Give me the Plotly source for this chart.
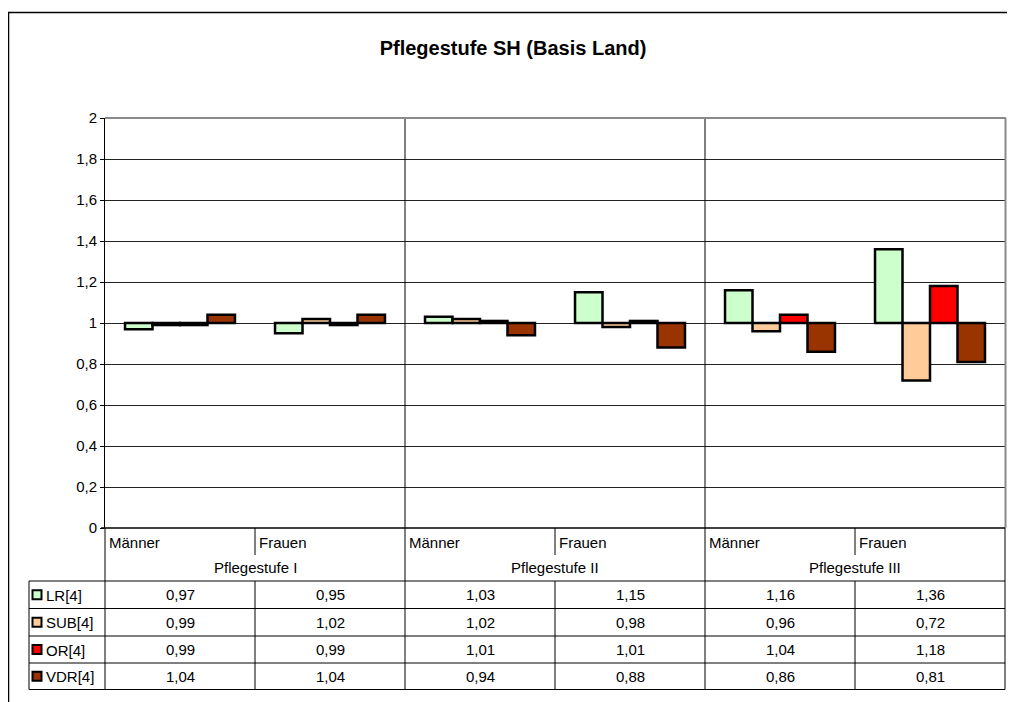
import plotly.graph_objects as go

# ---- data ----
groups = ["Pflegestufe I", "Pflegestufe II", "Pflegestufe III"]
sexes = ["Männer", "Frauen"]
series_names = ["LR[4]", "SUB[4]", "OR[4]", "VDR[4]"]
LR = [0.97, 0.95, 1.03, 1.15, 1.16, 1.36]
SUB = [0.99, 1.02, 1.02, 0.98, 0.96, 0.72]
OR = [0.99, 0.99, 1.01, 1.01, 1.04, 1.18]
VDR = [1.04, 1.04, 0.94, 0.88, 0.86, 0.81]
y_tickvals = [0, 0.2, 0.4, 0.6, 0.8, 1, 1.2, 1.4, 1.6, 1.8, 2]
y_ticktext = ["0", "0,2", "0,4", "0,6", "0,8", "1", "1,2", "1,4", "1,6", "1,8", "2"]
title_text = "Pflegestufe SH (Basis Land)"

series_values = [LR, SUB, OR, VDR]
colors = ["#CCFFCC", "#FFCC99", "#FF0000", "#993300"]
baseline = 1.0

cat_keys = [f"{g} {s}" for g in groups for s in sexes]

OFF = 8  # page body margin
W, H = 1015 - OFF, 702 - OFF
# plot area in screen pixels
PL, PR, PT, PB = 105, 1005, 118, 528
pw, ph = PR - PL, PB - PT


def px(x):
    return (x - PL) / pw


def py(y):
    return (PB - y) / ph


fig = go.Figure()
for name, vals, col in zip(series_names, series_values, colors):
    fig.add_trace(go.Bar(
        x=cat_keys,
        y=[v - baseline for v in vals],
        base=baseline,
        name=name,
        marker=dict(color=col, line=dict(color="#000000", width=2.5)),
        showlegend=False,
    ))

shapes = []
annotations = []
FONT = "Liberation Sans, Arial, sans-serif"
FS = 15


def line(x0, y0, x1, y1, color="#000000", width=1):
    shapes.append(dict(type="line", xref="paper", yref="paper",
                       x0=px(x0), y0=py(y0), x1=px(x1), y1=py(y1),
                       line=dict(color=color, width=width), layer="above"))


def text(x, y, s, xanchor="center", size=FS):
    annotations.append(dict(xref="paper", yref="paper", x=px(x), y=py(y), text=s,
                            showarrow=False, xanchor=xanchor, yanchor="middle",
                            font=dict(family=FONT, size=size, color="#000000")))


# outer chart border
shapes.append(dict(type="rect", xref="paper", yref="paper",
                   x0=px(8.5), y0=py(740), x1=px(1013.5), y1=py(12.5),
                   line=dict(color="#000000", width=1.5), layer="below"))

# group dividers in plot + table
for i in (1, 2):
    line(PL + i * 300, PT, PL + i * 300, 689.5, color="#000000", width=1)
# plot area top/right grey border
line(PL, PT, PR + 1, PT, color="#8a8a8a", width=2)
line(PR + 0.5, PT, PR + 0.5, PB, color="#8a8a8a", width=2)

# table structure
row_y = [581, 608.5, 636, 663, 689.5]
for yy in row_y:
    line(29, yy, PR, yy)
line(29, 581, 29, 689.5)
line(PL, PB, PL, 689.5)
line(PR, PB, PR, 689.5)
for i in range(6):
    xx = PL + 150 * (i + 1)
    if i % 2 == 0:
        line(xx, PB, xx, 555)
        line(xx, 581, xx, 689.5)

# header texts
for gi, g in enumerate(groups):
    for si, s in enumerate(sexes):
        text(PL + gi * 300 + si * 150 + 2, 542, s, xanchor="left")
    text(PL + gi * 300 + 150, 567, g)

# data rows
for ri, (name, vals, col) in enumerate(zip(series_names, series_values, colors)):
    yc = (row_y[ri] + row_y[ri + 1]) / 2
    shapes.append(dict(type="rect", xref="paper", yref="paper",
                       x0=px(32.5), x1=px(41.5), y0=py(yc + 4.5), y1=py(yc - 4.5),
                       fillcolor=col, line=dict(color="#000000", width=2), layer="above"))
    text(44, yc + 0.5, name, xanchor="left")
    for ci, v in enumerate(vals):
        text(PL + ci * 150 + 75, yc, f"{v:.2f}".replace(".", ","))

fig.update_layout(
    width=W, height=H,
    margin=dict(l=PL - OFF, r=W - (PR - OFF), t=PT - OFF, b=H - (PB - OFF), pad=0),
    paper_bgcolor="#FFFFFF", plot_bgcolor="#FFFFFF",
    barmode="group", bargap=0.267, bargroupgap=0,
    title=dict(text=f"<b>{title_text}</b>", x=(513 - OFF) / W, xanchor="center",
               y=1 - (48 - OFF) / H, yanchor="middle",
               font=dict(family=FONT, size=20, color="#000000")),
    font=dict(family=FONT, size=FS, color="#000000"),
    annotations=annotations,
)
fig.update_xaxes(showticklabels=False, showgrid=False, zeroline=False,
                 showline=False, ticks="")
fig.update_yaxes(range=[0, 2], tickvals=y_tickvals, ticktext=y_ticktext,
                 showgrid=True, gridcolor="#222222", gridwidth=1,
                 zeroline=False, showline=True, linecolor="#000000", linewidth=1,
                 ticks="outside", ticklen=4, tickcolor="#000000",
                 tickfont=dict(family=FONT, size=FS, color="#000000"))
# bottom axis line at 0
line(PL - 4, PB, PR, PB, color="#000000", width=1.5)

fig.update_layout(shapes=shapes)
fig.write_html("out.html")
